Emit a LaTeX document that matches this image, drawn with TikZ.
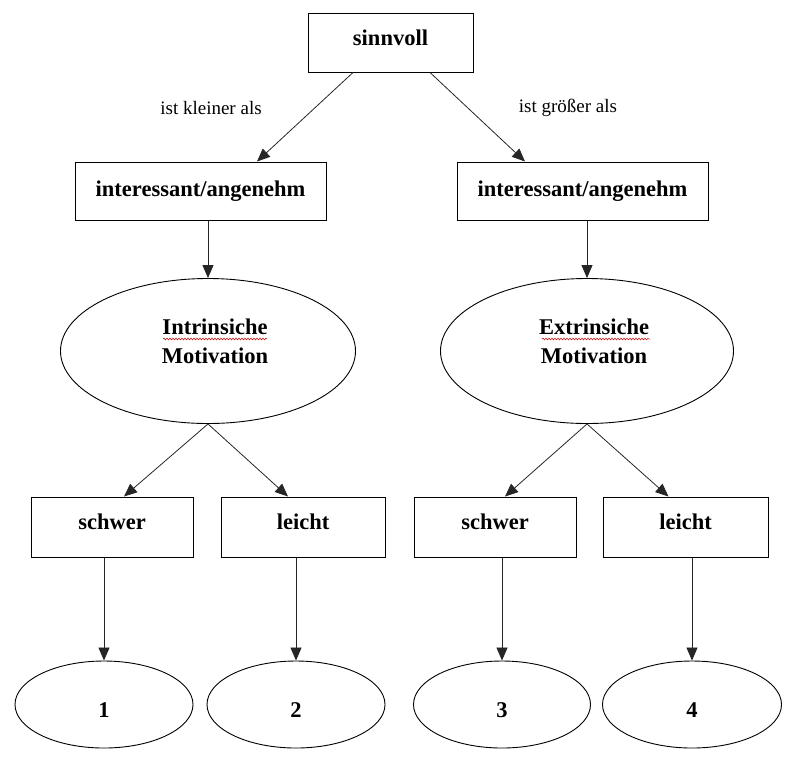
\documentclass[tikz,border=0pt]{standalone}
\usepackage{fontspec}
\setmainfont{Liberation Serif}
\usetikzlibrary{arrows.meta,shapes.geometric,calc,decorations.pathmorphing}
\newcommand{\upt}[1]{\raisebox{-2.5pt}[0pt][0pt]{#1}}
\newcommand{\downt}[1]{\raisebox{-12.5pt}[0pt][0pt]{#1}}
\newcommand{\twol}[2]{\hspace*{14pt}\raisebox{3pt}[0pt][0pt]{\begin{tabular}{@{}c@{}}#1\\#2\end{tabular}}}
\begin{document}
\begin{tikzpicture}[x=1pt,y=-1pt,
  boxnode/.style={draw=black,line width=1pt,rectangle,inner sep=0pt,
    font=\fontsize{22.5}{29}\selectfont\bfseries},
  ellnode/.style={draw=black,line width=0.9pt,ellipse,inner sep=0pt,
    font=\fontsize{22.5}{29}\selectfont\bfseries},
  lbl/.style={inner sep=0pt,font=\fontsize{19}{22}\selectfont},
  conn/.style={draw=black!85,line width=0.8pt,-{Triangle[length=13pt,width=11pt]}},
  wavy/.style={draw=red!75!black,line width=0.5pt,decorate,
    decoration={snake,amplitude=0.9pt,segment length=3pt}}
]
\useasboundingbox (0,0) rectangle (789,756);

% top
\node[boxnode,minimum width=165pt,minimum height=59pt] (s) at (390.5,42.5) {\upt{sinnvoll}};
\node[boxnode,minimum width=251pt,minimum height=58pt] (iL) at (200.5,191) {interessant/angenehm};
\node[boxnode,minimum width=251pt,minimum height=58pt] (iR) at (582.5,191) {interessant/angenehm};
\node[lbl] (lk) at (211,108) {ist kleiner als};
\node[lbl] (lg) at (568,108) {ist größer als};

% motivation ellipses
\node[ellnode,minimum width=295pt,minimum height=145pt] (eL) at (208,351) {\twol{Intrinsiche}{Motivation}};
\node[ellnode,minimum width=293pt,minimum height=145pt] (eR) at (587,351) {\twol{Extrinsiche}{Motivation}};

% bottom boxes
\node[boxnode,minimum width=162pt,minimum height=60pt] (b1) at (112,527) {\upt{schwer}};
\node[boxnode,minimum width=164pt,minimum height=60pt] (b2) at (303,527) {\upt{leicht}};
\node[boxnode,minimum width=162pt,minimum height=60pt] (b3) at (495,527) {\upt{schwer}};
\node[boxnode,minimum width=165pt,minimum height=60pt] (b4) at (685.5,527) {\upt{leicht}};

% bottom ellipses
\node[ellnode,minimum width=178pt,minimum height=87pt] (o1) at (104,704.5) {\downt{1}};
\node[ellnode,minimum width=178pt,minimum height=87pt] (o2) at (296,704.5) {\downt{2}};
\node[ellnode,minimum width=177pt,minimum height=87pt] (o3) at (502,704.5) {\downt{3}};
\node[ellnode,minimum width=179pt,minimum height=87pt] (o4) at (692,704.5) {\downt{4}};

% spell-check underlines
\draw[wavy] ($(eL.center)+(-45,-12)$) -- ($(eL.center)+(59,-12)$);
\draw[wavy] ($(eR.center)+(-45,-12)$) -- ($(eR.center)+(63,-12)$);

% connectors
\draw[conn] ($(s.south)+(-37.5,0)$) -- ($(iL.north)+(56.5,0)$);
\draw[conn] ($(s.south)+(39.5,0)$) -- ($(iR.north)+(-57.5,0)$);
\draw[conn] (iL.south -| eL.north) -- (eL.north);
\draw[conn] (iR.south -| eR.north) -- (eR.north);
\draw[conn] (eL.south) -- ($(b1.north)+(12,0)$);
\draw[conn] (eL.south) -- ($(b2.north)+(-15,0)$);
\draw[conn] (eR.south) -- ($(b3.north)+(10,0)$);
\draw[conn] (eR.south) -- ($(b4.north)+(-17,0)$);
\draw[conn] (b1.south -| o1.north) -- (o1.north);
\draw[conn] (b2.south -| o2.north) -- (o2.north);
\draw[conn] (b3.south -| o3.north) -- (o3.north);
\draw[conn] (b4.south -| o4.north) -- (o4.north);
\end{tikzpicture}
\end{document}
